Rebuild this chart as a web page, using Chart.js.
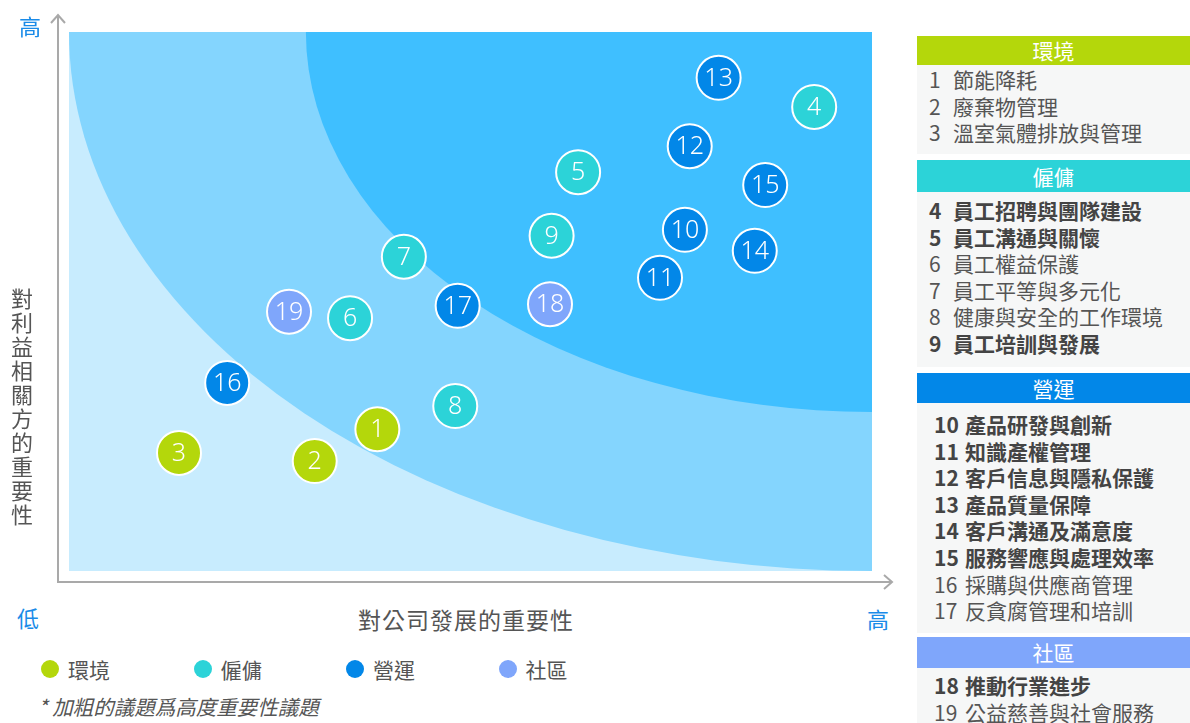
<!DOCTYPE html>
<html lang="zh-Hant">
<head>
<meta charset="utf-8">
<script src="https://cdn.jsdelivr.net/npm/chart.js@4"></script>
<style>
  body { margin: 0; width: 1190px; height: 723px; background: #fff; position: relative; overflow: hidden;
         font-family: "Noto Sans CJK TC", "Noto Sans", sans-serif; color: #555; }
  #wrap { position: absolute; left: 0; top: 0; width: 900px; height: 600px; }
  .c { position: absolute; transform: translate(-50%, -50%); white-space: nowrap; line-height: 1; }
  .hl { color: #1a8be8; font-size: 22px; }
  #xTitle { font-size: 23px; letter-spacing: 1px; }
  #yTitle { font-size: 22px; writing-mode: vertical-rl; letter-spacing: 2px; }
  #legend { position: absolute; left: 0; top: 657px; height: 24px; width: 900px; }
  .lg { position: absolute; top: 0; font-size: 21px; line-height: 24px; }
  .lg i { position: absolute; left: -27px; top: 3px; width: 18px; height: 18px; border-radius: 50%; }
  #note { position: absolute; left: 38px; top: 694px; font-size: 20.5px; font-style: italic; line-height: 24px; }
  #panel { position: absolute; left: 917px; top: 0; width: 273px; height: 723px; }
  .sec { position: absolute; left: 0; width: 273px; }
  .hd { text-align: center; color: #fff; font-size: 21px; }
  .ls { background: #f6f7f7; box-sizing: border-box; }
  .it { font-size: 21px; line-height: 26.6px; height: 26.6px; white-space: nowrap; }
  .it span { display: inline-block; }
  .one { padding-left: 12px; } .one span { width: 24px; }
  .two { padding-left: 17px; } .two span { width: 31px; }
  .b { font-weight: bold; color: #444; }
  #s0 { top: 36px; }  #s0 .hd { height: 29px; line-height: 29px; } #s0 .ls { height: 89px; padding-top: 1px; }
  #s1 { top: 160px; } #s1 .hd { height: 32px; line-height: 32px; } #s1 .ls { height: 175px; padding-top: 5px; }
  #s2 { top: 373px; } #s2 .hd { height: 30px; line-height: 30px; } #s2 .ls { height: 230px; padding-top: 8px; }
  #s3 { top: 637px; } #s3 .hd { height: 31px; line-height: 31px; } #s3 .ls { height: 60px; padding-top: 4px; }
</style>
</head>
<body>
<div id="wrap"><canvas id="matrix" width="900" height="600"></canvas></div>
<div class="c hl" style="left:30px;top:25px">高</div>
<div class="c hl" style="left:28px;top:617px">低</div>
<div class="c hl" style="left:878px;top:618px">高</div>
<div class="c" id="xTitle">對公司發展的重要性</div>
<div class="c" id="yTitle">對利益相關方的重要性</div>
<div id="legend"></div>
<div id="note">* 加粗的議題爲高度重要性議題</div>
<div id="panel"></div>
<script>
const categories = ['環境', '僱傭', '營運', '社區'];
const categoryColors = ['#b4d70b', '#2cd3d8', '#0287e8', '#7fa6fb'];
const issueNames = ['節能降耗', '廢棄物管理', '溫室氣體排放與管理', '員工招聘與團隊建設', '員工溝通與關懷',
  '員工權益保護', '員工平等與多元化', '健康與安全的工作環境', '員工培訓與發展', '產品研發與創新',
  '知識產權管理', '客戶信息與隱私保護', '產品質量保障', '客戶溝通及滿意度', '服務響應與處理效率',
  '採購與供應商管理', '反貪腐管理和培訓', '推動行業進步', '公益慈善與社會服務'];
const issueCategory = [0, 0, 0, 1, 1, 1, 1, 1, 1, 2, 2, 2, 2, 2, 2, 2, 2, 3, 3];
// 對公司發展的重要性 (x) / 對利益相關方的重要性 (y), 0-100
const companyImportance = [38.4, 30.6, 13.7, 92.8, 63.4, 35.0, 41.7, 48.1, 60.1, 76.7,
  73.6, 77.3, 80.9, 85.4, 86.7, 19.7, 48.4, 59.9, 27.4];
const stakeholderImportance = [26.3, 20.4, 21.9, 86.1, 74.0, 46.9, 58.3, 30.6, 62.2, 63.3,
  54.4, 78.8, 91.5, 59.4, 71.6, 34.9, 49.2, 49.5, 48.1];
const highImportance = [4, 5, 9, 10, 11, 12, 13, 14, 15, 18];
// 區域邊界: 以右上角為中心的四分之一橢圓半徑
const zoneRadii = [100, 70.5];
const zoneColors = ['#c8ecfe', '#84d5fe', '#3fbfff'];

const datasets = categories.map((name, c) => ({
  label: name,
  data: issueNames.map((n, i) => ({ x: companyImportance[i], y: stakeholderImportance[i], id: i + 1 }))
    .filter((p, i) => issueCategory[i] === c),
  backgroundColor: categoryColors[c],
  borderColor: '#ffffff',
  borderWidth: 2,
  pointRadius: 22
}));

const zonesPlugin = {
  id: 'zones',
  beforeDatasetsDraw(chart) {
    const { ctx, chartArea: a, scales: { x, y } } = chart;
    ctx.save();
    ctx.beginPath();
    ctx.rect(a.left, a.top, a.width, a.height);
    ctx.clip();
    ctx.fillStyle = zoneColors[0];
    ctx.fillRect(a.left, a.top, a.width, a.height);
    const cx = x.getPixelForValue(100), cy = y.getPixelForValue(100);
    zoneRadii.forEach((r, i) => {
      ctx.beginPath();
      ctx.ellipse(cx, cy, cx - x.getPixelForValue(100 - r), y.getPixelForValue(100 - r) - cy, 0, 0, Math.PI * 2);
      ctx.fillStyle = zoneColors[i + 1];
      ctx.fill();
    });
    ctx.restore();

    // 軸線和箭頭
    const ox = a.left - 11, oy = a.bottom + 11;
    ctx.save();
    ctx.strokeStyle = '#a9a9a9';
    ctx.lineWidth = 2;
    ctx.beginPath();
    ctx.moveTo(ox, a.top - 17);
    ctx.lineTo(ox, oy);
    ctx.lineTo(a.right + 20, oy);
    ctx.moveTo(ox - 7, a.top - 9); ctx.lineTo(ox, a.top - 17); ctx.lineTo(ox + 7, a.top - 9);
    ctx.moveTo(a.right + 12, oy - 7); ctx.lineTo(a.right + 20, oy); ctx.lineTo(a.right + 12, oy + 7);
    ctx.stroke();
    ctx.restore();
  },
  afterDatasetsDraw(chart) {
    const ctx = chart.ctx;
    ctx.save();
    ctx.fillStyle = '#ffffff';
    ctx.font = '300 25px "Noto Sans", "Noto Sans CJK TC", sans-serif';
    ctx.textAlign = 'center';
    ctx.textBaseline = 'middle';
    chart.data.datasets.forEach((ds, di) => {
      chart.getDatasetMeta(di).data.forEach((pt, j) => ctx.fillText(ds.data[j].id, pt.x, pt.y + 1));
    });
    ctx.restore();
  }
};

new Chart(document.getElementById('matrix'), {
  type: 'scatter',
  data: { datasets },
  options: {
    responsive: false,
    animation: false,
    events: [],
    layout: { padding: { left: 69, top: 32, right: 28, bottom: 29 } },
    plugins: { legend: { display: false }, tooltip: { enabled: false } },
    scales: {
      x: { type: 'linear', min: 0, max: 100, display: false },
      y: { type: 'linear', min: 0, max: 100, display: false }
    }
  },
  plugins: [zonesPlugin]
});

// 標題位置
const xt = document.getElementById('xTitle');
xt.style.left = '466px'; xt.style.top = '619px';
const yt = document.getElementById('yTitle');
yt.style.left = '22px'; yt.style.top = '408px';

// 下方圖例
const legend = document.getElementById('legend');
categories.forEach((name, c) => {
  const d = document.createElement('div');
  d.className = 'lg';
  d.style.left = (68 + c * 152.5) + 'px';
  d.innerHTML = '<i style="background:' + categoryColors[c] + '"></i>' + name;
  legend.appendChild(d);
});

// 右側議題列表
const panel = document.getElementById('panel');
categories.forEach((name, c) => {
  const sec = document.createElement('div');
  sec.className = 'sec';
  sec.id = 's' + c;
  const hd = document.createElement('div');
  hd.className = 'hd';
  hd.style.background = categoryColors[c];
  hd.textContent = name;
  sec.appendChild(hd);
  const ls = document.createElement('div');
  ls.className = 'ls';
  const ids = issueNames.map((n, i) => i).filter(i => issueCategory[i] === c);
  const wide = ids.some(i => i + 1 >= 10);
  ids.forEach(i => {
    const it = document.createElement('div');
    it.className = 'it ' + (wide ? 'two' : 'one') + (highImportance.includes(i + 1) ? ' b' : '');
    it.innerHTML = '<span>' + (i + 1) + '</span>' + issueNames[i];
    ls.appendChild(it);
  });
  sec.appendChild(ls);
  panel.appendChild(sec);
});
</script>
</body>
</html>
